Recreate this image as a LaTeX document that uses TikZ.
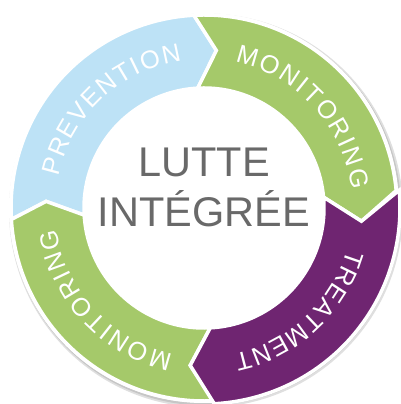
\documentclass[tikz,border=0pt]{standalone}
\usepackage{fontspec}
\setmainfont{Liberation Sans}
\definecolor{segblue}{RGB}{189,226,246}
\definecolor{seggreen}{RGB}{165,201,106}
\definecolor{segpurple}{RGB}{111,37,113}
\definecolor{centergray}{RGB}{105,105,105}
\newcommand\ringfont{\fontsize{25.5}{25.5}\selectfont}
\newlength\ltrw
\tikzset{
  segfill/.style={draw=white, line width=3.5pt, line join=miter},
  centertext/.style={font=\fontsize{41.5}{41.5}\selectfont, text=centergray, inner sep=0pt, anchor=base},
  ringletter/.style={font=\ringfont, text=white, inner sep=0pt, anchor=base},
}
% measure a letter's width (outside the picture's null font) into \rlw
\newcommand\measureletter[1]{%
  \pgfinterruptpicture\settowidth{\ltrw}{\ringfont #1}\xdef\rlw{\the\ltrw}\endpgfinterruptpicture}
% #1 trailing angle, #2 notch depth, #3 leading angle, #4 tip depth, #5 colour, #6 outer radius
\newcommand\ringseg[6]{%
  \path[segfill, fill=#5] (#1:#6pt) arc[start angle=#1, end angle=#3, radius=#6pt]
    -- ({#3-#4}:158pt) -- (#3:120pt) arc[start angle=#3, end angle=#1, radius=120pt]
    -- ({#1-#2}:158pt) -- cycle;}
% #1 start angle, #2 end angle, #3 letters (comma list), #4 name prefix
\newcommand\ringlabel[4]{%
  \gdef\rlsum{0}\gdef\rlcount{0}%
  \foreach \ch in {#3} {%
    \measureletter{\ch}%
    \pgfmathsetmacro\rltmp{\rlsum+\rlw}\xdef\rlsum{\rltmp}%
    \pgfmathtruncatemacro\rltmpc{\rlcount+1}\xdef\rlcount{\rltmpc}%
  }%
  \pgfmathsetmacro\rlarc{(#1-(#2))*pi/180*149}%
  \pgfmathsetmacro\rlgap{(\rlarc-\rlsum)/(\rlcount-1)}%
  \xdef\rlgapg{\rlgap}%
  \gdef\rlpos{0}%
  \foreach \ch [count=\i] in {#3} {%
    \measureletter{\ch}%
    \pgfmathsetmacro\rlang{#1-(\rlpos+\rlw/2)/149*180/pi}%
    \node[ringletter, rotate=\rlang-90] (#4\i) at (\rlang:149pt) {\ch};
    \pgfmathsetmacro\rltmp{\rlpos+\rlw+\rlgapg}\xdef\rlpos{\rltmp}%
  }%
}
\begin{document}
\begin{tikzpicture}
\useasboundingbox (0pt,0pt) rectangle (401pt,404pt);
\begin{scope}[shift={(204pt,196pt)}]
  % shadow and white border
  \fill[gray!25] (2pt,-2.5pt) circle[radius=197pt];
  \fill[gray!45] (1.5pt,-2pt) circle[radius=195.5pt];
  \fill[white] (0pt,0pt) circle[radius=195pt];
  % segments
  \ringseg{183.4}{5.8}{93}{7.5}{segblue}{193}
  \ringseg{93}{7.5}{5.2}{10}{seggreen}{193}
  \ringseg{273}{8}{183.4}{5.8}{seggreen}{193}
  \ringseg{5.2}{10}{-87}{8}{segpurple}{196}
  % inner disc
  \fill[white] (0pt,0pt) circle[radius=119pt];
  % ring labels
  \ringlabel{168}{98.5}{P,R,E,V,E,N,T,I,O,N}{prev}
  \ringlabel{78}{7}{M,O,N,I,T,O,R,I,N,G}{monA}
  \ringlabel{-16}{-78.5}{T,R,E,A,T,M,E,N,T}{treat}
  \ringlabel{-102}{-172}{M,O,N,I,T,O,R,I,N,G}{monB}
  % centre text
  \node[centertext] (lutte) at (0pt,31pt) {LUTTE};
  \node[centertext] (integree) at (0pt,-19pt) {INTÉGRÉE};
\end{scope}
\end{tikzpicture}
\end{document}
